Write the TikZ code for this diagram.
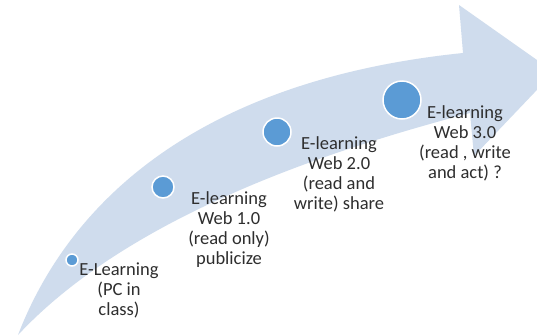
\documentclass[tikz,border=0pt]{standalone}
\usepackage{fontspec}
\setmainfont{Carlito}
\definecolor{arrowfill}{HTML}{CFDCED}
\definecolor{dotfill}{HTML}{5B9BD5}
\definecolor{txt}{HTML}{2E2E2E}
\begin{document}
\begin{tikzpicture}[x=1pt,y=-1pt,
  dot/.style={circle, fill=dotfill, draw=white, line width=1.5pt, inner sep=0pt},
  lbl/.style={align=center, anchor=north, inner sep=0pt, text=txt,
              font=\fontsize{18.5}{20}\selectfont}]
\useasboundingbox[fill=white] (0,0) rectangle (537,335);
\begin{scope}
\clip (0,0) rectangle (537,335);
\fill[arrowfill] (18,335) .. controls (70,200) and (200,80) .. (463,53)
  -- (459,5) -- (554,72) -- (474,156) -- (470,113)
  .. controls (330,150) and (130,215) .. (18,335) -- cycle;
\end{scope}
\node[dot, minimum size=12pt] (c1) at (72,260) {};
\node[dot, minimum size=22pt] (c2) at (163,187) {};
\node[dot, minimum size=28pt] (c3) at (277,132) {};
\node[dot, minimum size=38pt] (c4) at (402,100) {};
\node[lbl] (t1) at (119,263) {E-Learning\\(PC in\\class)};
\node[lbl] (t2) at (229,191) {E-learning\\Web 1.0\\(read only)\\publicize};
\node[lbl] (t3) at (339,136) {E-learning\\Web 2.0\\(read and\\write) share};
\node[lbl] (t4) at (465,105) {E-learning\\Web 3.0\\(read , write\\and act) ?};
\end{tikzpicture}
\end{document}
